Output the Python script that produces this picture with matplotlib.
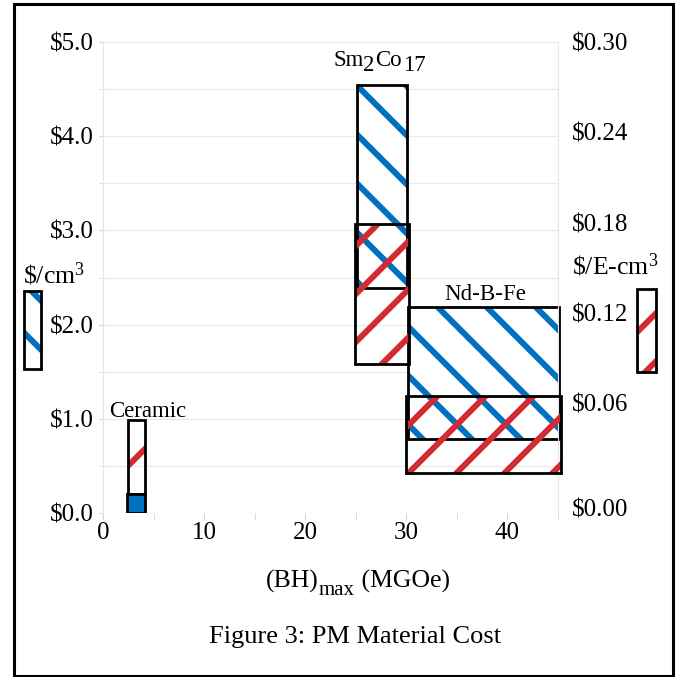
import numpy as np
import matplotlib
matplotlib.use('Agg')
import matplotlib.pyplot as plt
from matplotlib.patches import Rectangle
from matplotlib.lines import Line2D
from matplotlib.transforms import ScaledTranslation

plt.rcParams['font.family'] = ['Liberation Serif', 'DejaVu Serif']
plt.rcParams['mathtext.fontset'] = 'custom'
plt.rcParams['mathtext.rm'] = 'Liberation Serif'
plt.rcParams['mathtext.it'] = 'Liberation Serif:italic'

BLUE = '#0070C0'
RED = '#D42A31'

# --- data ---
materials = ['Ceramic', 'Sm2Co17', 'Nd-B-Fe']
# $/cm3 ranges (left axis) over (BH)max ranges
cm3_bh_lo = [2.4, 25.1, 30.2]
cm3_bh_hi = [4.2, 30.1, 45.1]
cm3_cost_lo = [0.00, 2.39, 0.79]
cm3_cost_hi = [0.20, 4.54, 2.19]
cm3_solid = [True, False, False]
# $/E-cm3 ranges (right axis)
ecm3_bh_lo = [2.5, 24.9, 30.0]
ecm3_bh_hi = [4.15, 30.3, 45.3]
ecm3_cost_lo = [0.000, 0.086, 0.0135]
ecm3_cost_hi = [0.049, 0.179, 0.0646]

left_ticks = [0.0, 1.0, 2.0, 3.0, 4.0, 5.0]
right_ticks = [0.00, 0.06, 0.12, 0.18, 0.24, 0.30]
x_ticks = [0, 10, 20, 30, 40]

# label anchors (x, baseline) in left-axis units
label_x = [4.4, 22.75, 37.8]
label_y = [1.02, 4.75, 2.26]

# stripe phase (pixels along box edge) just to line up with the original
blue_phase = [0, 0, 29]
red_phase = [20, 27, 2]
GAP_BLUE, GAP_RED = 49, 48


def add_box(ax, x0, x1, y0, y1, color, kind, phase, gap, face='white', z=2):
    fill = Rectangle((x0, y0), x1 - x0, y1 - y0, facecolor=face,
                     edgecolor='none', zorder=z, clip_on=False)
    ax.add_patch(fill)
    if kind is not None:
        (px0, py0), (px1, py1) = ax.transData.transform([(x0, y0), (x1, y1)])
        xs = np.array([px0 - 5, px1 + 5])
        if kind == 'down':   # "\" lines, x + y = c
            c0 = px0 + py1 + phase
            cmin, cmax = px0 + py0, px1 + py1
        else:                # "/" lines, x - y = c
            c0 = px0 - py0 + phase
            cmin, cmax = px0 - py1, px1 - py0
        ks = np.arange(np.floor((cmin - c0) / gap) - 1, np.ceil((cmax - c0) / gap) + 2)
        inv = ax.transData.inverted()
        for c in c0 + gap * ks:
            ys = c - xs if kind == 'down' else xs - c
            pts = inv.transform(np.column_stack([xs, ys]))
            ln = Line2D(pts[:, 0], pts[:, 1], color=color, lw=4.3,
                        solid_capstyle='butt', zorder=z + 0.1)
            ax.add_line(ln)
            ln.set_clip_path(fill)
    ax.add_patch(Rectangle((x0, y0), x1 - x0, y1 - y0, facecolor='none',
                           edgecolor='black', lw=2, zorder=z + 0.2, clip_on=False))


def chain_text(first, pieces):
    # text pieces placed one after another, each shifted up/down in points
    t = first
    for piece, dx, dy, size in pieces:
        t = t.axes.annotate(piece, xy=(1, 0), xycoords=t, xytext=(dx, dy),
                            textcoords='offset points', ha='left', va='bottom',
                            fontsize=size, annotation_clip=False)
    return t


fig = plt.figure(figsize=(6.78, 6.77), dpi=100)
ax = fig.add_axes([103 / 678, 1 - 513 / 677, 455 / 678, 471 / 677])
ax.set_xlim(0, 45)
ax.set_ylim(0, 5)
ax2 = ax.twinx()
ax2.set_ylim(-0.0129, 0.2993)

# axes styling
for s in ['top', 'bottom']:
    ax.spines[s].set_visible(False)
for s in ['left', 'right']:
    ax.spines[s].set_color('#e6e6e6')
    ax.spines[s].set_linewidth(0.8)
for s in ax2.spines.values():
    s.set_visible(False)

ax.set_yticks(left_ticks)
ax.set_yticklabels(['$%.1f' % v for v in left_ticks])
ax.set_yticks(np.arange(0.5, 5, 1.0), minor=True)
ax.set_xticks(x_ticks)
ax.set_xticklabels([str(v) for v in x_ticks])
ax.set_xticks([5, 15, 25, 35, 45], minor=True)
ax.grid(axis='y', which='both', color='#e9e9e9', lw=0.8)
ax.set_axisbelow(True)
ax.tick_params(axis='y', which='both', length=3, color='#d4d4d4', pad=4, labelsize=18)
ax.tick_params(axis='x', which='both', length=5, color='#d4d4d4', pad=1.5, labelsize=18)

ax2.set_yticks(right_ticks)
ax2.set_yticklabels(['$%.2f' % v for v in right_ticks])
ax2.tick_params(axis='y', length=0, pad=10, labelsize=18)

# boxes: $/cm3 in blue, $/E-cm3 in red
for i in range(len(materials)):
    if cm3_solid[i]:
        continue
    add_box(ax, cm3_bh_lo[i], cm3_bh_hi[i], cm3_cost_lo[i], cm3_cost_hi[i],
            BLUE, 'down', blue_phase[i], GAP_BLUE, z=2)
for i in range(len(materials)):
    add_box(ax2, ecm3_bh_lo[i], ecm3_bh_hi[i], ecm3_cost_lo[i], ecm3_cost_hi[i],
            RED, 'up', red_phase[i], GAP_RED, face='none', z=3)
for i in range(len(materials)):
    if cm3_solid[i]:
        ax2.add_patch(Rectangle((cm3_bh_lo[i], cm3_cost_lo[i]),
                                cm3_bh_hi[i] - cm3_bh_lo[i],
                                cm3_cost_hi[i] - cm3_cost_lo[i],
                                transform=ax.transData, facecolor=BLUE,
                                edgecolor='black', lw=2, zorder=4))

# key boxes beside the axes
add_box(ax, -7.81, -6.13, 1.53, 2.36, BLUE, 'down', 7, GAP_BLUE, z=2)
add_box(ax2, 52.8, 54.7, 0.0805, 0.1362, RED, 'up', 8, GAP_RED, z=2)
ax.text(-7.9, 2.44, r'\$/cm$^{3}$', ha='left', va='baseline', fontsize=18.5)
ax.text(46.4, 2.53, r'\$/E-cm$^{3}$', ha='left', va='baseline', fontsize=18.5)

# material labels
ax2.text(label_x[0], label_y[0], materials[0], transform=ax.transData,
         ha='center', va='baseline', fontsize=16.5)
ax2.text(label_x[2], label_y[2], materials[2], transform=ax.transData,
         ha='center', va='baseline', fontsize=16.5)
t = ax2.text(label_x[1], label_y[1], 'Sm', transform=ax.transData,
             ha='left', va='baseline', fontsize=16.5)
chain_text(t, [('2', 0, -3.6, 16.5), ('Co', 0, 3.6, 16.5), ('17', 1.5, -3.6, 16.5)])

# $0.00 label sits a little lower in the original
tk = ax2.yaxis.get_major_ticks()[0]
tk.label2.set_transform(tk.label2.get_transform() +
                        ScaledTranslation(0, -0.145, fig.dpi_scale_trans))

# x axis title: (BH)max (MGOe)
t = ax.text((266 - 103) / 455, (513 - 588) / 471, '(BH)', transform=ax.transAxes,
            ha='left', va='baseline', fontsize=18.5)
chain_text(t, [('max', 0, -4.5, 15), (' (MGOe)', 0, 4.5, 18.5)])

fig.text(355 / 678, 1 - 643 / 677, 'Figure 3: PM Material Cost',
         ha='center', va='baseline', fontsize=19)

# outer frame
fig.patches.append(Rectangle((14 / 678, 1 - 675.5 / 677), 658.5 / 678, 672 / 677,
                             transform=fig.transFigure, facecolor='none',
                             edgecolor='black', lw=2.2, zorder=10))

fig.savefig('out.png', dpi=100)
